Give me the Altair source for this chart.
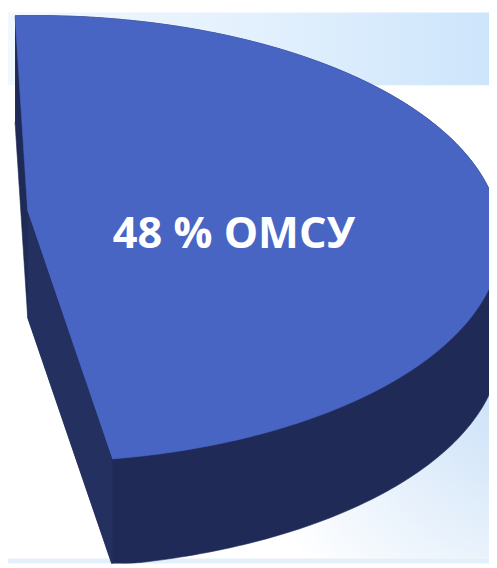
import altair as alt
import pandas as pd

# ---- data ----
labels = ["ОМСУ"]
shares = [48]

# ---- layout / style constants (pixels of the picture) ----
W, H = 489, 560          # plot size (page margin 8px)
OFF = 8
EX, EY = 35, 238         # centre of the elliptic rim
RA, RB = 474, 227        # semi-axes of the rim (3D tilt)
CX, CY = 28, 210         # apex of the slice
PHI0 = -1.6127           # start angle of the slice (rad)
DEPTH = 108              # thickness of the 3D slab
N = 180

BLUE = "#4965c4"
SIDE = "#1f2a56"
CUT = "#24305f"

df = pd.DataFrame({"label": labels, "share": shares})
base = alt.Chart(df)

X = alt.X("x:Q", scale=alt.Scale(domain=[OFF, OFF + W], nice=False, zero=False), axis=None)
Y = alt.Y("y:Q", scale=alt.Scale(domain=[OFF, OFF + H], nice=False, zero=False, reverse=True), axis=None)

span = "(datum.share / 100 * 2 * PI)"

# top face
top = base.transform_calculate(
    k=f"sequence(-1, {N + 1})"
).transform_flatten(["k"]).transform_calculate(
    phi=f"{PHI0} + datum.k / {N} * {span}"
).transform_calculate(
    x=f"datum.k < 0 ? {CX} : {EX} + {RA} * cos(datum.phi)",
    y=f"datum.k < 0 ? {CY} : {EY} + {RB} * sin(datum.phi)",
).mark_line(fill=BLUE, stroke=BLUE, strokeWidth=0.6, clip=True).encode(
    x=X, y=Y, order="k:Q"
)

# silhouette of the extruded slab
side = base.transform_calculate(
    k=f"sequence(0, {N + 3})"
).transform_flatten(["k"]).transform_calculate(
    phi=f"{PHI0} + min(datum.k, {N}) / {N} * {span}"
).transform_calculate(
    x=(f"datum.k == {N + 1} ? {CX} : datum.k == {N + 2} ? {EX} + {RA} * cos({PHI0}) : "
       f"{EX} + {RA} * cos(datum.phi)"),
    y=(f"datum.k == {N + 1} ? {CY} + {DEPTH} : datum.k == {N + 2} ? {EY} + {RB} * sin({PHI0}) + {DEPTH} : "
       f"{EY} + {RB} * sin(datum.phi) + (datum.phi > 0 ? {DEPTH} : 0)"),
).mark_line(fill=SIDE, stroke=SIDE, strokeWidth=0.6, clip=True).encode(
    x=X, y=Y, order="k:Q"
)

# cut face along the second radius
cut = base.transform_calculate(
    k="sequence(0, 4)"
).transform_flatten(["k"]).transform_calculate(
    phi=f"{PHI0} + {span}"
).transform_calculate(
    x=f"(datum.k == 0 || datum.k == 3) ? {CX} : {EX} + {RA} * cos(datum.phi)",
    y=(f"(datum.k == 0 ? {CY} : datum.k == 3 ? {CY} + {DEPTH} : {EY} + {RB} * sin(datum.phi))"
       f" + (datum.k == 2 ? {DEPTH} : 0)"),
).mark_line(fill=CUT, stroke=CUT, strokeWidth=0.6, clip=True).encode(
    x=X, y=Y, order="k:Q"
)

# label
label = base.transform_calculate(
    mid=f"{PHI0} + {span} / 2",
    txt="datum.share + ' % ' + datum.label",
).transform_calculate(
    x=f"{EX} + 0.43 * {RA} * cos(datum.mid)",
    y=f"{EY} + 0.43 * {RB} * sin(datum.mid)",
).mark_text(
    font="Open Sans", fontWeight="bold", fontSize=44, color="white",
    align="center", baseline="middle", dy=7,
).encode(x=X, y=Y, text="txt:N")

# slide background decoration
band = base.mark_rect(
    fill=alt.LinearGradient(
        gradient="linear", x1=0, x2=1, y1=0, y2=0,
        stops=[alt.GradientStop(color="#f2f8fe", offset=0),
               alt.GradientStop(color="#e2f0fd", offset=0.55),
               alt.GradientStop(color="#cde5fb", offset=1)],
    )
).encode(x=alt.value(0), x2=alt.value(W), y=alt.value(0), y2=alt.value(74))

glow = base.mark_rect(
    fill=alt.RadialGradient(
        gradient="radial", x1=1, y1=0.45, r1=0, x2=1, y2=0.45, r2=0.9,
        stops=[alt.GradientStop(color="#c6def7", offset=0),
               alt.GradientStop(color="#ffffff", offset=1)],
    )
).encode(x=alt.value(250), x2=alt.value(W), y=alt.value(230), y2=alt.value(555))

bottom = base.mark_rect(color="#e3effa").encode(
    x=alt.value(0), x2=alt.value(W), y=alt.value(555), y2=alt.value(H)
)

chart = alt.layer(band, glow, bottom, side, cut, top, label).properties(
    width=W, height=H, padding=0, autosize=alt.AutoSizeParams(type="none"),
    background="white",
).configure_view(stroke=None)

chart.save("out.html", embed_options={"renderer": "svg", "actions": False})
